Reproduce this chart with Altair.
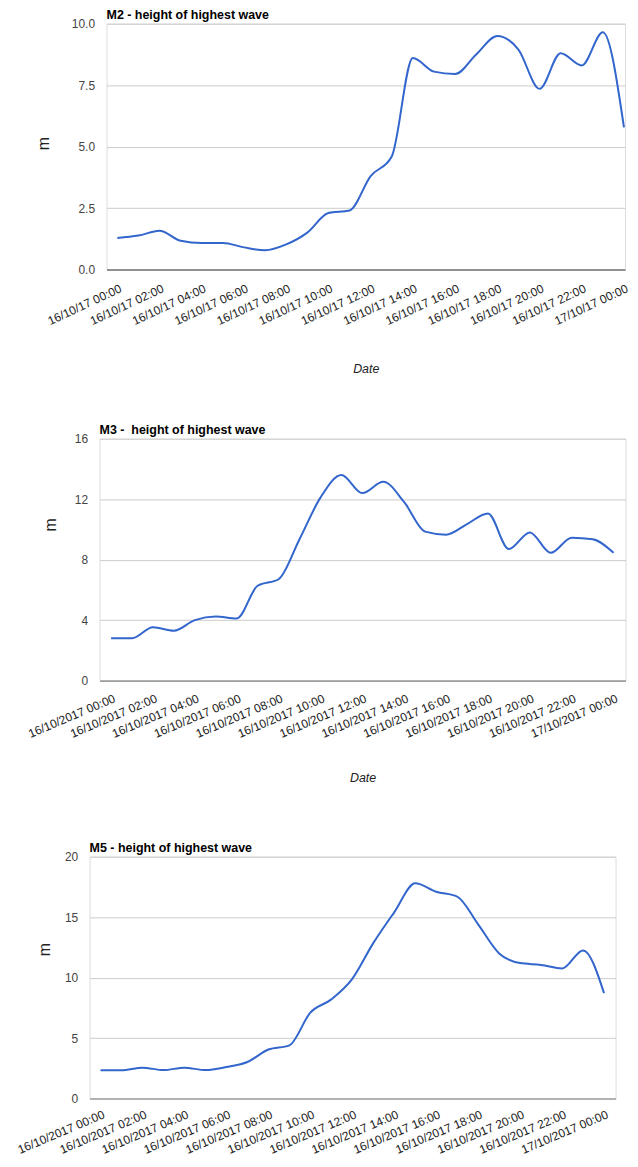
import json
import altair as alt
import pandas as pd

# time of each reading, hours after 16/10/2017 00:00
hours = [0, 1, 2, 3, 4, 5, 6, 7, 8, 9, 10, 11, 12, 13, 14, 15, 16, 17, 18, 19, 20, 21, 22, 23, 24]

m2_height = [1.28, 1.38, 1.58, 1.17, 1.08, 1.08, 0.90, 0.78, 1.02, 1.50, 2.30, 2.40, 3.80, 4.60,
             8.60, 8.05, 7.95, 8.75, 9.50, 8.95, 7.35, 8.80, 8.30, 9.65, 5.78]
m3_height = [2.80, 2.80, 3.53, 3.30, 4.00, 4.23, 4.10, 6.27, 6.70, 9.35, 12.10, 13.60, 12.40, 13.15,
             11.80, 9.85, 9.65, 10.35, 11.05, 8.70, 9.80, 8.45, 9.45, 9.35, 8.45]
m5_height = [2.33, 2.33, 2.55, 2.35, 2.55, 2.35, 2.60, 3.02, 4.05, 4.40, 7.10, 8.20, 9.90, 12.85,
             15.40, 17.80, 17.10, 16.70, 14.40, 12.00, 11.20, 11.05, 10.75, 12.25, 8.72]

tick_hours = [0, 2, 4, 6, 8, 10, 12, 14, 16, 18, 20, 22, 24]
m2_tick_labels = ["16/10/17 00:00", "16/10/17 02:00", "16/10/17 04:00", "16/10/17 06:00",
                  "16/10/17 08:00", "16/10/17 10:00", "16/10/17 12:00", "16/10/17 14:00",
                  "16/10/17 16:00", "16/10/17 18:00", "16/10/17 20:00", "16/10/17 22:00",
                  "17/10/17 00:00"]
long_tick_labels = ["16/10/2017 00:00", "16/10/2017 02:00", "16/10/2017 04:00", "16/10/2017 06:00",
                    "16/10/2017 08:00", "16/10/2017 10:00", "16/10/2017 12:00", "16/10/2017 14:00",
                    "16/10/2017 16:00", "16/10/2017 18:00", "16/10/2017 20:00", "16/10/2017 22:00",
                    "17/10/2017 00:00"]

m2_y_ticks = [0, 2.5, 5, 7.5, 10]
m3_y_ticks = [0, 4, 8, 12, 16]
m5_y_ticks = [0, 5, 10, 15, 20]

FONT = "Liberation Sans"


def panel(values, labels, title, yticks, ymax, yfmt, width, height, xdom,
          ytx, yty, date_y, base_color, angle, lpad):
    df = pd.DataFrame({"hour": hours, "height": values})
    label_expr = json.dumps(labels) + "[round(datum.value / 2)]"
    x_axis = dict(
        values=tick_hours, labelExpr=label_expr, labelAngle=angle,
        labelAlign="right", labelBaseline="middle", labelPadding=lpad,
        labelOffset=3, labelFlush=False, labelOverlap=False,
        labelFontSize=12, labelColor="#222222", labelFont=FONT,
        ticks=False, grid=False, domainColor=base_color, domainWidth=1.2,
    )
    if date_y:
        x_axis.update(
            titleFont=FONT, titleFontStyle="italic",
            titleFontWeight="normal", titleFontSize=12.5, titleColor="#222222",
            titleX=width / 2, titleY=date_y, titleBaseline="middle",
            titleAlign="center",
        )
        x_enc = alt.X("hour:Q", title="Date",
                      scale=alt.Scale(domain=xdom, nice=False, zero=False),
                      axis=alt.Axis(**x_axis))
    else:
        x_enc = alt.X("hour:Q", title=None,
                      scale=alt.Scale(domain=xdom, nice=False, zero=False),
                      axis=alt.Axis(**x_axis))
    return alt.Chart(
        df,
        title=alt.Title(title, anchor="start", frame="group", fontSize=12.5,
                        fontWeight="bold", color="#000000", font=FONT, offset=4, dy=8),
    ).mark_line(interpolate="monotone", color="#3366cc", strokeWidth=2).encode(
        x=x_enc,
        y=alt.Y(
            "height:Q",
            scale=alt.Scale(domain=[0, ymax], nice=False, zero=True),
            axis=alt.Axis(
                values=yticks, format=yfmt, domain=False, ticks=False,
                gridColor="#cccccc", gridWidth=1, labelPadding=12,
                labelColor="#444444", labelFontSize=12, labelFont=FONT,
                title="m", titleAngle=270, titleX=ytx, titleY=yty,
                titleBaseline="alphabetic", titleAlign="center",
                titleFontSize=16, titleFontWeight="normal", titleColor="#222222",
                titleFont=FONT,
            ),
        ),
    ).properties(width=width, height=height)


def spacer(w):
    # empty, invisible column that sets the left indent of a panel
    return alt.Chart(pd.DataFrame({"hour": [0]})).mark_point(opacity=0).properties(
        width=w, height=1)


c1 = panel(m2_height, m2_tick_labels, "M2 - height of highest wave", m2_y_ticks, 10, ".1f",
           521, 247, [-0.51, 24.05], -57.8, 120, 99, "#444444", 335, 18)
c2 = panel(m3_height, long_tick_labels, "M3 -\u00a0 height of highest wave", m3_y_ticks, 16, "d",
           528.5, 243, [-0.55, 24.57], -44.3, 86, 97, "#888888", 337, 17)
c3 = panel(m5_height, long_tick_labels, "M5 - height of highest wave", m5_y_ticks, 20, "d",
           528.5, 243, [-0.52, 24.55], -40.5, 93, 0, "#888888", 337, 15)

r1 = alt.hconcat(spacer(26.2), c1, spacing=0)
r2 = alt.hconcat(spacer(16.5), c2, spacing=0)
r3 = alt.hconcat(spacer(6.2), c3, spacing=0)

top = alt.concat(r1, r2, columns=1, align="none", spacing=49)
chart = alt.concat(top, r3, columns=1, align="none", spacing=58).properties(
    padding={"left": 0, "top": -2, "right": 0, "bottom": 0}
).configure_view(stroke=None).configure(font=FONT)

chart.save("out.html", embed_options={"renderer": "svg", "actions": False})
